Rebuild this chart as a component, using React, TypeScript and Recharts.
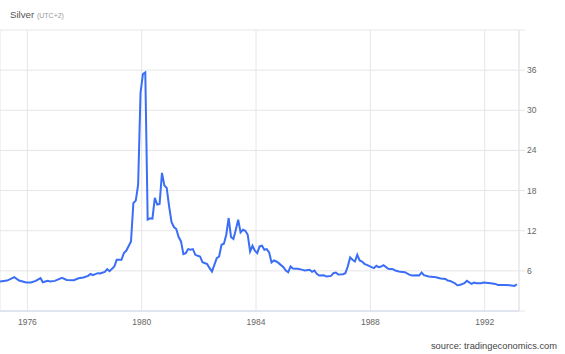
import { LineChart, Line, XAxis, YAxis, CartesianGrid } from 'recharts'

// monthly closes (USD / oz)
const dates = [
  '1975-01', '1975-04', '1975-07', '1975-09', '1975-12',
  '1976-02', '1976-04', '1976-06', '1976-07', '1976-09', '1976-10', '1976-12',
  '1977-03', '1977-05', '1977-08', '1977-10', '1977-12',
  '1978-02', '1978-03', '1978-04', '1978-06', '1978-07', '1978-09', '1978-10', '1978-11',
  '1979-01', '1979-02', '1979-04', '1979-05', '1979-06', '1979-08', '1979-09', '1979-10', '1979-11', '1979-12',
  '1980-01', '1980-02', '1980-03', '1980-04', '1980-05', '1980-06', '1980-07', '1980-08', '1980-09', '1980-10', '1980-11', '1980-12',
  '1981-01', '1981-02', '1981-03', '1981-04', '1981-05', '1981-06', '1981-07', '1981-08', '1981-09', '1981-10', '1981-11', '1981-12',
  '1982-01', '1982-02', '1982-04', '1982-05', '1982-06', '1982-07', '1982-08', '1982-09', '1982-10', '1982-11', '1982-12',
  '1983-01', '1983-02', '1983-03', '1983-04', '1983-05', '1983-06', '1983-07', '1983-08', '1983-09', '1983-10', '1983-11', '1983-12',
  '1984-01', '1984-02', '1984-03', '1984-04', '1984-05', '1984-06', '1984-07', '1984-08', '1984-09', '1984-10', '1984-12',
  '1985-01', '1985-02', '1985-03', '1985-04', '1985-05', '1985-06', '1985-08', '1985-09', '1985-11', '1985-12',
  '1986-01', '1986-02', '1986-03', '1986-05', '1986-06', '1986-08', '1986-09', '1986-10', '1986-11',
  '1987-01', '1987-02', '1987-03', '1987-04', '1987-05', '1987-06', '1987-07', '1987-08', '1987-09', '1987-10', '1987-11',
  '1988-01', '1988-02', '1988-03', '1988-04', '1988-05', '1988-06', '1988-08', '1988-10', '1988-11',
  '1989-01', '1989-03', '1989-05', '1989-06', '1989-08', '1989-09', '1989-10', '1989-11',
  '1990-01', '1990-03', '1990-04', '1990-06', '1990-08', '1990-09', '1990-10', '1990-12',
  '1991-01', '1991-02', '1991-04', '1991-05', '1991-07', '1991-08', '1991-09', '1991-11', '1991-12',
  '1992-02', '1992-03', '1992-05', '1992-06', '1992-09', '1992-11',
  '1993-01', '1993-02',
]

const prices = [
  4.4, 4.55, 5.05, 4.55, 4.25,
  4.25, 4.5, 4.9, 4.3, 4.5, 4.4, 4.5,
  4.95, 4.65, 4.6, 4.9, 5.0,
  5.25, 5.55, 5.35, 5.65, 5.6, 5.85, 6.25, 5.95,
  6.65, 7.65, 7.65, 8.65, 9.0, 10.4, 16.15, 16.5, 18.9, 32.6,
  35.4, 35.65, 13.65, 13.85, 13.8, 16.9, 15.9, 16.0, 20.65, 18.75, 18.4, 15.65,
  13.3, 12.55, 12.25, 11.05, 10.4, 8.5, 8.65, 9.25, 9.15, 9.25, 8.4, 8.25,
  8.15, 7.3, 7.0, 6.4, 5.9, 6.9, 7.9, 8.15, 9.9, 10.05, 11.4,
  13.9, 11.05, 10.75, 12.15, 13.65, 11.75, 12.15, 12.0, 11.4, 8.9, 9.75, 9.0,
  8.65, 9.65, 9.75, 9.15, 9.25, 8.75, 7.25, 7.55, 7.4, 7.15, 6.55,
  6.05, 5.8, 6.65, 6.35, 6.3, 6.3, 6.15, 6.05, 6.15, 5.85,
  6.05, 5.55, 5.3, 5.35, 5.15, 5.25, 5.65, 5.75, 5.45,
  5.5, 5.65, 6.65, 8.0, 7.65, 7.4, 8.4, 7.55, 7.4, 7.05, 6.9,
  6.55, 6.4, 6.75, 6.55, 6.65, 6.85, 6.3, 6.25, 6.05,
  5.85, 5.8, 5.4, 5.3, 5.35, 5.3, 5.75, 5.35,
  5.15, 5.1, 5.05, 4.85, 4.8, 4.55, 4.5, 4.15,
  3.85, 3.9, 4.15, 4.5, 4.05, 4.25, 4.15, 4.15, 4.25,
  4.2, 4.15, 4.05, 3.9, 3.9, 3.85,
  3.75, 4.0,
]

const yearTicks = [1976, 1980, 1984, 1988, 1992]
const priceTicks = [0, 6, 12, 18, 24, 30, 36, 42]

// 'YYYY-MM' -> decimal year, middle of the month
const toYear = (d: string) => {
  const [y, m] = d.split('-').map(Number)
  return y + (m - 1) / 12 + 1 / 24
}

const data = dates.map((d, i) => ({ t: toYear(d), v: prices[i] }))

const FONT = '"Liberation Sans", Arial, sans-serif'
const GRID = '#e6e6e6'

export default function App() {
  return (
    <div style={{ position: 'absolute', left: 0, top: 0, width: 565, height: 354, background: '#fff', fontFamily: FONT }}>
      <div style={{ position: 'absolute', left: 10, top: 9, fontSize: 9.7, color: '#555', whiteSpace: 'nowrap' }}>
        Silver <span style={{ fontSize: 7, color: '#999' }}>(UTC+2)</span>
      </div>

      <LineChart width={565} height={354} data={data} margin={{ top: 30, right: 0, bottom: 18, left: 0 }}>
        <CartesianGrid stroke={GRID} strokeWidth={1} />
        <XAxis
          type="number"
          dataKey="t"
          domain={[data[0].t, 1993.2]}
          ticks={yearTicks}
          allowDataOverflow
          height={25}
          tickLine={false}
          axisLine={{ stroke: '#ccd6eb' }}
          tick={{ fill: '#666', fontSize: 8.5, fontFamily: FONT }}
        />
        <YAxis
          orientation="right"
          domain={[0, 42]}
          ticks={priceTicks}
          width={46}
          tickFormatter={(v: number) => (v === 0 || v === 42 ? '' : String(v))}
          axisLine={{ stroke: GRID }}
          tickLine={{ stroke: GRID }}
          tick={{ fill: '#666', fontSize: 8.5, fontFamily: FONT }}
        />
        <Line
          type="linear"
          dataKey="v"
          stroke="#3a6ef6"
          strokeWidth={2}
          dot={false}
          isAnimationActive={false}
        />
      </LineChart>

      <div style={{ position: 'absolute', right: 8, top: 341, fontSize: 9.3, color: '#444', whiteSpace: 'nowrap' }}>
        source: tradingeconomics.com
      </div>
    </div>
  )
}
